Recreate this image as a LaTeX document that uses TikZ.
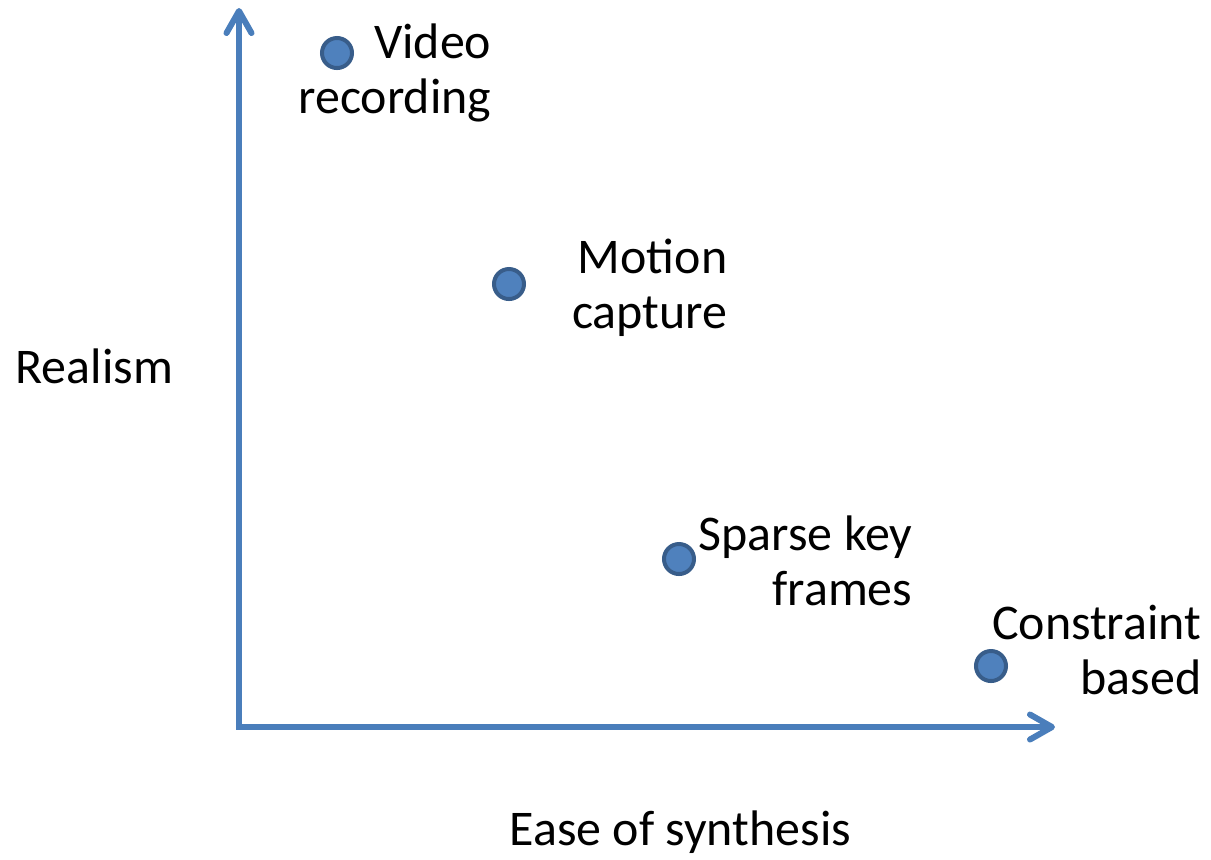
\documentclass[tikz,border=0pt]{standalone}
\usepackage{fontspec}
\setmainfont{Carlito}
\usetikzlibrary{arrows.meta}
\definecolor{axisblue}{HTML}{4A7EBB}
\definecolor{dotfill}{HTML}{4F81BD}
\definecolor{dotline}{HTML}{385D8A}
\begin{document}
\begin{tikzpicture}[x=0.01cm, y=-0.01cm,
axis/.style={draw=axisblue, line width=0.06cm,
  arrows={Straight Barb[length=0.22cm, width=0.25cm, round]-Straight Barb[length=0.22cm, width=0.25cm, round]}},
dot/.style={circle, draw=dotline, fill=dotfill, line width=0.04cm, minimum size=0.3cm, inner sep=0pt},
txt/.style={font=\fontsize{14.2pt}{15.6pt}\selectfont, align=right, inner sep=0pt, anchor=base east}]

\useasboundingbox (0,0) rectangle (1211,859);

% axes
\coordinate (ytop) at (239,8);
\coordinate (orig) at (239,727);
\coordinate (xend) at (1055,727);
\draw[axis] (ytop) -- (orig) -- (xend);

% points
\node[dot] (video)  at (337,53)  {};
\node[dot] (motion) at (509,284) {};
\node[dot] (sparse) at (679,559) {};
\node[dot] (constr) at (991,666) {};

% labels (anchored at the baseline of the last line)
\node[txt] (videotxt)  at (492,113) {Video\\recording};
\node[txt] (motiontxt) at (728,328) {Motion\\capture};
\node[txt] (sparsetxt) at (913,605) {Sparse key\\frames};
\node[txt] (constrtxt) at (1202,694) {Constraint\\based};
\node[txt, anchor=base west] (ylab) at (15,383) {Realism};
\node[txt, anchor=base west] (xlab) at (509,845) {Ease of synthesis};

\end{tikzpicture}
\end{document}
